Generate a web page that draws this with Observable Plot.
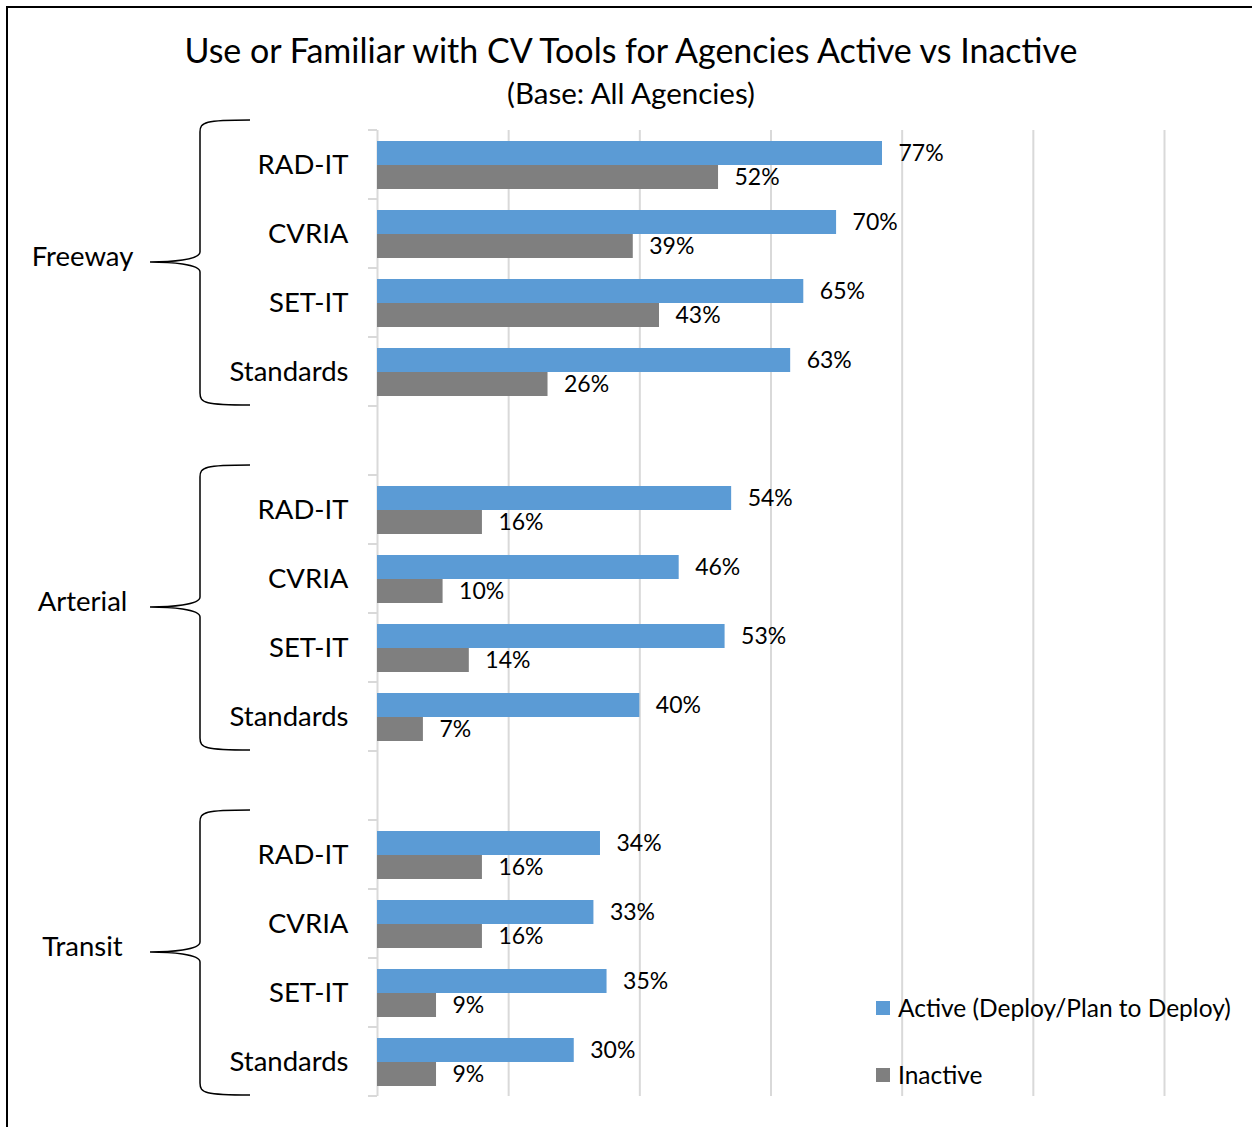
<!DOCTYPE html>
<html>
<head>
<meta charset="utf-8">
<script src="https://cdn.jsdelivr.net/npm/d3@7"></script>
<script src="https://cdn.jsdelivr.net/npm/@observablehq/plot@0.6"></script>
<style>
  html, body { margin: 0; padding: 0; background: #fff; }
  body { width: 1252px; height: 1127px; position: relative; overflow: hidden; font-family: Lato, "Noto Sans", sans-serif; color: #000; }
  #frame { position: absolute; left: 6px; top: 6px; width: 1260px; height: 1140px; border-left: 2px solid #000; border-top: 2px solid #000; box-sizing: border-box; }
  #title { position: absolute; left: 0; width: 1262px; top: 30px; text-align: center; font-size: 34px; line-height: 40px; }
  #subtitle { position: absolute; left: 0; width: 1262px; top: 76px; text-align: center; font-size: 29.5px; line-height: 34px; }
  #chart { position: absolute; left: 0; top: 0; }
  .legend { position: absolute; left: 876px; font-size: 24.5px; line-height: 30px; display: flex; align-items: center; }
  .legend .sw { width: 14px; height: 14px; margin-right: 8px; }
</style>
</head>
<body>
<div id="frame"></div>
<div id="chart"></div>
<div id="title">Use or Familiar with CV Tools for Agencies Active vs Inactive</div>
<div id="subtitle">(Base: All Agencies)</div>
<div id="legend"></div>
<script>
const groups = ["Freeway", "Arterial", "Transit"];
const tools = ["RAD-IT", "CVRIA", "SET-IT", "Standards"];
const freewayActive = [77, 70, 65, 63];
const freewayInactive = [52, 39, 43, 26];
const arterialActive = [54, 46, 53, 40];
const arterialInactive = [16, 10, 14, 7];
const transitActive = [34, 33, 35, 30];
const transitInactive = [16, 16, 9, 9];
const xTicks = [0, 20, 40, 60, 80, 100, 120];
const seriesNames = ["Active (Deploy/Plan to Deploy)", "Inactive"];
const seriesColors = ["#5b9bd5", "#7f7f7f"];

const activeByGroup = [freewayActive, arterialActive, transitActive];
const inactiveByGroup = [freewayInactive, arterialInactive, transitInactive];

const rows = [];
const domain = [];
groups.forEach((g, gi) => {
  tools.forEach((t, ti) => {
    const key = g + "|" + t;
    domain.push(key);
    rows.push({group: g, tool: t, key, active: activeByGroup[gi][ti], inactive: inactiveByGroup[gi][ti]});
  });
  if (gi < groups.length - 1) domain.push("gap" + gi);
});

const groupRows = groups.map(g => ({group: g, first: g + "|" + tools[0], last: g + "|" + tools[tools.length - 1], mid: g + "|" + tools[1]}));

function decorations(index, scales, values, dims) {
  const y = scales.y;
  const bw = y.bandwidth();
  const g = d3.create("svg:g");
  const x0 = scales.x(0);
  const bounds = domain.map(k => y(k)).concat([y(domain[domain.length - 1]) + bw]);
  g.selectAll("line.tk").data(bounds).join("line")
    .attr("x1", x0 - 9).attr("x2", x0).attr("y1", d => d).attr("y2", d => d)
    .attr("stroke", "#d9d9d9").attr("stroke-width", 2);
  groupRows.forEach(gr => {
    const top = y(gr.first) - 10;
    const bot = y(gr.last) + bw - 1;
    const mid = (y(gr.first) + y(gr.last) + bw) / 2 - 6;
    const xe = x0 - 127, xs = x0 - 177, xt = x0 - 227;
    const p = d3.path();
    p.moveTo(xe, top);
    p.bezierCurveTo(xs + 5, top, xs, top + 2, xs, top + 12);
    p.lineTo(xs, mid - 10);
    p.bezierCurveTo(xs, mid - 2, xt + 20, mid, xt, mid);
    p.bezierCurveTo(xt + 20, mid, xs, mid + 2, xs, mid + 10);
    p.lineTo(xs, bot - 12);
    p.bezierCurveTo(xs, bot - 2, xs + 5, bot, xe, bot);
    g.append("path").attr("d", p.toString()).attr("fill", "none").attr("stroke", "#000").attr("stroke-width", 1.5);
  });
  return g.node();
}

const plot = Plot.plot({
  width: 1252,
  height: 1127,
  marginLeft: 377,
  marginRight: 88,
  marginTop: 130,
  marginBottom: 31,
  style: {fontFamily: "Lato, 'Noto Sans', sans-serif", fontSize: "22px", color: "#000", background: "transparent"},
  x: {domain: [0, 120], axis: null},
  y: {type: "band", domain, padding: 0, axis: null},
  marks: [
    Plot.ruleX(xTicks.slice(1), {stroke: "#d9d9d9", strokeWidth: 2, strokeOpacity: 1}),
    Plot.ruleX([0], {stroke: "#d9d9d9", strokeWidth: 2, strokeOpacity: 1}),
    Plot.barX(rows, {x: "active", y: "key", fill: seriesColors[0], insetTop: 11, insetBottom: 34}),
    Plot.barX(rows, {x: "inactive", y: "key", fill: seriesColors[1], insetTop: 35, insetBottom: 10}),
    Plot.text(rows, {x: "active", y: "key", text: d => d.active + "%", dx: 16, dy: -11.5, textAnchor: "start", fontSize: 23, fill: "#000"}),
    Plot.text(rows, {x: "inactive", y: "key", text: d => d.inactive + "%", dx: 16, dy: 12.5, textAnchor: "start", fontSize: 23, fill: "#000"}),
    Plot.text(rows, {y: "key", text: "tool", frameAnchor: "left", dx: -29, textAnchor: "end", fontSize: 27.5, fill: "#000"}),
    Plot.text(groupRows, {y: "mid", text: "group", frameAnchor: "left", dx: -295, dy: 23.5, textAnchor: "middle", fontSize: 27.5, fill: "#000"}),
    decorations
  ]
});
document.getElementById("chart").appendChild(plot);

const legend = document.getElementById("legend");
const legendTops = [993, 1060];
seriesNames.forEach((n, i) => {
  const d = document.createElement("div");
  d.className = "legend";
  d.style.top = legendTops[i] + "px";
  d.innerHTML = `<span class="sw" style="background:${seriesColors[i]}"></span><span>${n}</span>`;
  legend.appendChild(d);
});
</script>
</body>
</html>
